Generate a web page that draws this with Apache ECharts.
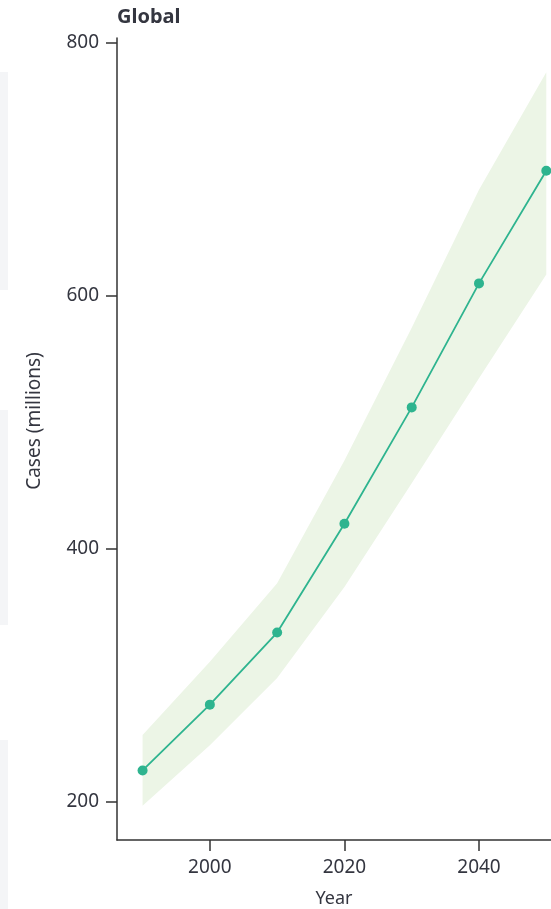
<!DOCTYPE html>
<html>
<head>
<meta charset="utf-8">
<script src="https://cdn.jsdelivr.net/npm/echarts@6/dist/echarts.min.js"></script>
<style>
  html, body { margin: 0; padding: 0; background: #fff; }
  #chart { width: 551px; height: 909px; }
</style>
</head>
<body>
<div id="chart"></div>
<script>
// data
const years = [1990, 2000, 2010, 2020, 2030, 2040, 2050]
const cases = [225, 277, 334, 420, 512, 610, 699]
const upper = [253, 311, 373, 470, 575, 684, 777]
const lower = [197, 245, 298, 370, 452, 535, 617]
const xTicks = [2000, 2020, 2040]
const yTicks = [200, 400, 600, 800]

const txt = '#343640'
const font = 'Noto Sans'

let chart = echarts.init(document.getElementById('chart'))

let option = {
  animation: false,
  title: {
    text: 'Global',
    left: 112,
    top: 2,
    textStyle: { fontFamily: font, fontSize: 20, fontWeight: 'bold', color: txt }
  },
  graphic: [
    // faint page panels on the left edge
    { type: 'rect', shape: { x: 0, y: 72, width: 8, height: 218 }, style: { fill: '#f4f5f7' } },
    { type: 'rect', shape: { x: 0, y: 410, width: 8, height: 215 }, style: { fill: '#f4f5f7' } },
    { type: 'rect', shape: { x: 0, y: 740, width: 8, height: 169 }, style: { fill: '#f4f5f7' } }
  ],
  grid: { left: 117, top: 38, right: 0, bottom: 69, containLabel: false, outerBoundsMode: 'none' },
  xAxis: {
    type: 'value',
    min: 1986.2,
    max: 2050.7,
    name: 'Year',
    nameLocation: 'middle',
    nameGap: 50,
    nameTextStyle: { fontFamily: font, fontSize: 18, color: txt },
    axisLine: { show: true, lineStyle: { color: '#333', width: 1.5 } },
    axisTick: { show: true, length: 11, customValues: xTicks, lineStyle: { color: '#333', width: 1.5 } },
    axisLabel: {
      customValues: xTicks,
      margin: 18,
      fontFamily: font,
      fontSize: 19,
      color: txt,
      formatter: function (v) { return String(v) }
    },
    splitLine: { show: false }
  },
  yAxis: {
    type: 'value',
    min: 170,
    max: 804,
    name: 'Cases (millions)',
    nameLocation: 'middle',
    nameGap: 73,
    nameTextStyle: { fontFamily: font, fontSize: 19, color: txt, padding: [0, 0, 0, 36] },
    axisLine: { show: true, lineStyle: { color: '#333', width: 1.5 } },
    axisTick: { show: true, length: 11, customValues: yTicks, lineStyle: { color: '#333', width: 1.5 } },
    axisLabel: { customValues: yTicks, margin: 18, fontFamily: font, fontSize: 19, color: txt },
    splitLine: { show: false }
  },
  series: [
    {
      // uncertainty band, drawn as one polygon through the axis scales
      type: 'custom',
      silent: true,
      z: 1,
      data: years.map((y, i) => [y, lower[i], upper[i]]),
      renderItem: function (params, api) {
        if (params.dataIndex !== 0) return
        let pts = []
        for (let i = 0; i < years.length; i++) pts.push(api.coord([years[i], upper[i]]))
        for (let i = years.length - 1; i >= 0; i--) pts.push(api.coord([years[i], lower[i]]))
        return {
          type: 'polygon',
          shape: { points: pts },
          style: { fill: '#ecf5e6' }
        }
      }
    },
    {
      type: 'line',
      z: 3,
      data: years.map((y, i) => [y, cases[i]]),
      symbol: 'circle',
      symbolSize: 10,
      lineStyle: { color: '#2eb48f', width: 1.8 },
      itemStyle: { color: '#2eb48f' }
    }
  ]
}
chart.setOption(option)
</script>
</body>
</html>
